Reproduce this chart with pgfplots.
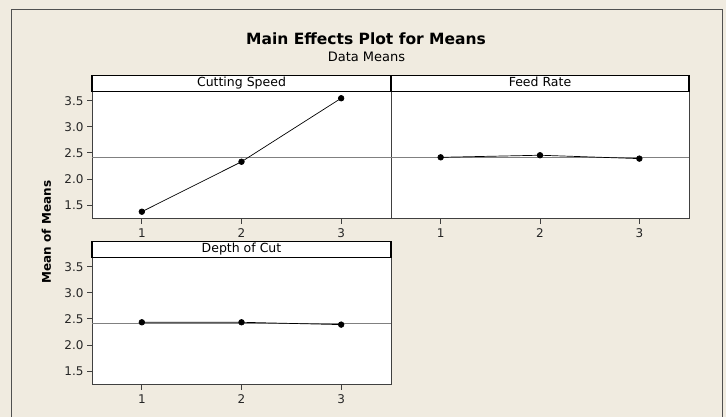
\documentclass[border=0pt]{standalone}
\usepackage{fontspec}
\setmainfont{DejaVu Sans}
\usepackage{pgfplots}
\pgfplotsset{compat=1.18}
\definecolor{bgbeige}{RGB}{240,235,224}
\definecolor{framegray}{RGB}{80,80,80}
\definecolor{axgray}{RGB}{64,64,64}
\definecolor{meangray}{RGB}{128,128,128}
\pgfplotsset{
  every axis title shift=0pt,
  panel/.style={
    scale only axis, width=299pt, height=127pt,
    xmin=0.5, xmax=3.5, ymin=1.23, ymax=3.67,
    xtick={1,2,3}, ytick={1.5,2.0,2.5,3.0,3.5},
    /pgf/number format/assume math mode=true,
    yticklabel style={/pgf/number format/fixed, /pgf/number format/precision=1, /pgf/number format/fixed zerofill},
    ticklabel style={font=\fontsize{12}{14}\selectfont, text=black!85},
    xticklabel style={yshift=-1.5pt},
    tick align=outside, tick pos=left,
    major tick length=5pt,
    tick style={color=axgray, line width=0.8pt},
    axis line style={color=axgray, line width=1pt},
    axis background/.style={fill=white},
    title style={at={(0.5,1)}, anchor=south, draw=black, line width=1.2pt, fill=white,
      minimum width=299pt, minimum height=16pt, inner sep=0pt, yshift=0pt,
      text height=9.5pt, text depth=2.5pt,
      font=\fontsize{12.5}{14}\selectfont},
  },
  meanline/.style={meangray, line width=0.9pt},
  dataline/.style={black, line width=0.7pt, mark=*, mark size=2.8pt, mark options={fill=black}},
}
\begin{document}
\begin{tikzpicture}
\path[use as bounding box] (0,0) rectangle (726pt,417pt);
\fill[bgbeige] (0,0) rectangle (726pt,417pt);
\draw[framegray, line width=1pt] (11pt,-10pt) rectangle (722pt,407pt);
\node[anchor=base, font=\fontsize{15.5}{18}\selectfont\bfseries] at (366pt,372.7pt) {Main Effects Plot for Means};
\node[anchor=base, font=\fontsize{13}{15}\selectfont] at (366.5pt,355.3pt) {Data Means};
\node[rotate=90, font=\fontsize{12}{14}\selectfont\bfseries] at (46.5pt,185pt) {Mean of Means};

\begin{axis}[panel, at={(92pt,198pt)}, anchor=south west, title={Cutting Speed}]
\addplot[meanline] coordinates {(0.5,2.417) (3.5,2.417)};
\addplot[dataline] coordinates {(1,1.37) (2,2.33) (3,3.55)};
\end{axis}

\begin{axis}[panel, at={(391pt,198pt)}, anchor=south west, width=298pt, title={Feed Rate},
  title style={minimum width=298pt}, ytick=\empty]
\addplot[meanline] coordinates {(0.5,2.417) (3.5,2.417)};
\addplot[dataline] coordinates {(1,2.415) (2,2.455) (3,2.39)};
\end{axis}

\begin{axis}[panel, at={(92pt,32pt)}, anchor=south west, title={Depth of Cut}]
\addplot[meanline] coordinates {(0.5,2.417) (3.5,2.417)};
\addplot[dataline] coordinates {(1,2.435) (2,2.435) (3,2.39)};
\end{axis}
\end{tikzpicture}
\end{document}
